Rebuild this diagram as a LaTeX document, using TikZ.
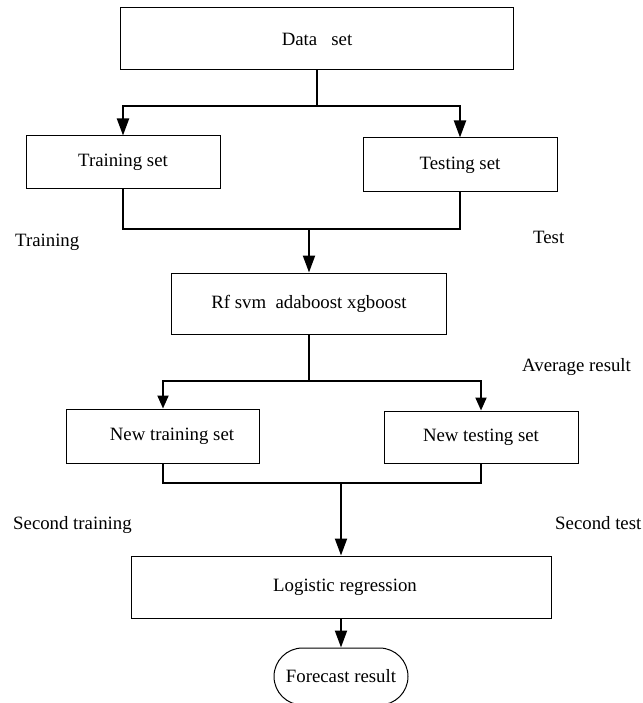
\documentclass[tikz,border=0pt]{standalone}
\usepackage{fontspec}
\setmainfont{Liberation Serif}
\usetikzlibrary{arrows.meta,shapes.misc}
\begin{document}
\begin{tikzpicture}[x=1pt,y=-1pt,
  box/.style={draw,line width=1pt,inner sep=0pt,font=\fontsize{18.8}{22}\selectfont},
  lbl/.style={anchor=base west,inner sep=0pt,font=\fontsize{18.8}{22}\selectfont},
  conn/.style={line width=2pt,line join=miter},
  arr/.style={conn,-{Triangle[length=17pt,width=12pt]}},
  arrs/.style={conn,-{Triangle[length=13pt,width=11pt]}}]
\useasboundingbox (0,0) rectangle (642,703);
% boxes
\node[box,minimum width=393pt,minimum height=62pt] (data) at (317,39) {Data\ \ \ set};
\node[box,minimum width=194pt,minimum height=53pt] (train) at (123,162.5) {Training set};
\node[box,minimum width=194pt,minimum height=54pt] (test) at (460,165) {Testing set};
\node[box,minimum width=275pt,minimum height=61pt] (rf) at (309,303.5) {Rf svm\ \ adaboost xgboost};
\node[box,minimum width=193pt,minimum height=54pt] (ntrain) at (163,436) {\hspace*{18pt}New training set};
\node[box,minimum width=194pt,minimum height=52pt] (ntest) at (481,437) {New testing set};
\node[box,minimum width=420pt,minimum height=62pt] (logit) at (341,587) {\hspace*{8pt}Logistic regression};
\node[box,rounded rectangle,minimum width=134pt,minimum height=57pt] (fc) at (341,676.5) {Forecast result};
% side labels
\node[lbl] (ltrain) at (15,246) {Training};
\node[lbl] (ltest) at (533,243) {Test};
\node[lbl] (lavg) at (522,371) {Average result};
\node[lbl] (lstrain) at (13,529) {Second training};
\node[lbl] (lstest) at (555,529) {Second test};
% junctions
\coordinate (j1) at (317,106);
\coordinate (j2) at (309,229);
\coordinate (j3) at (309,381);
\coordinate (j4) at (341,483);
% connectors
\draw[conn] (data.south) -- (j1);
\draw[arr] (j1) -| (train.north);
\draw[arr] (j1) -| (test.north);
\draw[conn] (train.south) |- (j2) -| (test.south);
\draw[arr] (j2) -- (rf.north);
\draw[conn] (rf.south) -- (j3);
\draw[arrs] (j3) -| (ntrain.north);
\draw[arrs] (j3) -| (ntest.north);
\draw[conn] (ntrain.south) |- (j4) -| (ntest.south);
\draw[arr] (j4) -- (logit.north);
\draw[arr] (logit.south) -- (fc.north);
\end{tikzpicture}
\end{document}
